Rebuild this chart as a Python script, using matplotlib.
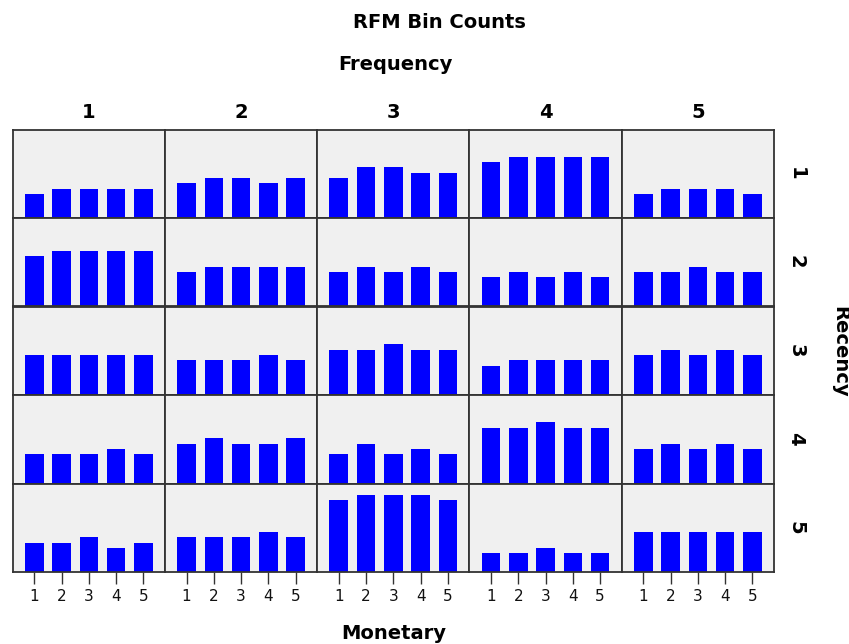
import matplotlib
matplotlib.use('Agg')
import matplotlib.pyplot as plt

# ---- data ----
monetary = [1, 2, 3, 4, 5]
monetary_labels = ['1', '2', '3', '4', '5']
frequency_labels = ['1', '2', '3', '4', '5']
recency_labels = ['1', '2', '3', '4', '5']

# each list: one entry per Frequency bin (1..5), each holding counts for Monetary 1..5
recency_1 = [[9, 11, 11, 11, 11], [13, 15, 15, 13, 15], [15, 19, 19, 17, 17],
             [21, 23, 23, 23, 23], [9, 11, 11, 11, 9]]
recency_2 = [[19, 21, 21, 21, 21], [13, 15, 15, 15, 15], [13, 15, 13, 15, 13],
             [11, 13, 11, 13, 11], [13, 13, 15, 13, 13]]
recency_3 = [[15, 15, 15, 15, 15], [13, 13, 13, 15, 13], [17, 17, 19, 17, 17],
             [11, 13, 13, 13, 13], [15, 17, 15, 17, 15]]
recency_4 = [[11, 11, 11, 13, 11], [15, 17, 15, 15, 17], [11, 15, 11, 13, 11],
             [21, 21, 23, 21, 21], [13, 15, 13, 15, 13]]
recency_5 = [[11, 11, 13, 9, 11], [13, 13, 13, 15, 13], [27, 29, 29, 29, 27],
             [7, 7, 9, 7, 7], [15, 15, 15, 15, 15]]
counts = [recency_1, recency_2, recency_3, recency_4, recency_5]

W, H = 849, 644
fig, axes = plt.subplots(5, 5, figsize=(W / 100, H / 100), dpi=100)
fig.patch.set_facecolor('white')
fig.subplots_adjust(left=12.7 / W, right=774 / W, top=1 - 129.5 / H,
                    bottom=1 - 572 / H, wspace=0, hspace=0)

for i in range(5):
    for j in range(5):
        ax = axes[i][j]
        ax.bar(monetary, counts[i][j], width=0.68, color='#0000ff',
               edgecolor='none', zorder=2)
        ax.set_facecolor('#f0f0f0')
        ax.set_xlim(0.21, 5.79)
        ax.set_ylim(0, 33.2)
        ax.set_yticks([])
        for s in ax.spines.values():
            s.set_color('#333333')
            s.set_linewidth(1.3)
        if i == 4:
            ax.set_xticks(monetary)
            ax.set_xticklabels(monetary_labels, fontsize=11,
                               family='DejaVu Sans', color='#111111')
            ax.tick_params(axis='x', length=8.4, width=1.0, color='#333333',
                           pad=4)
        else:
            ax.set_xticks([])

# column headers (Frequency bins)
for j in range(5):
    pos = axes[0][j].get_position()
    fig.text((pos.x0 + pos.x1) / 2, 1 - 118.3 / H, frequency_labels[j],
             ha='center', va='baseline', fontsize=14, fontweight='bold',
             family='DejaVu Sans')

# row headers (Recency bins)
for i in range(5):
    pos = axes[i][0].get_position()
    fig.text(796 / W, (pos.y0 + pos.y1) / 2, recency_labels[i],
             ha='center', va='center', rotation=-90, fontsize=14,
             fontweight='bold', family='DejaVu Sans')

fig.text(439.7 / W, 1 - 28.3 / H, 'RFM Bin Counts', ha='center',
         va='baseline', fontsize=14, fontweight='bold', family='DejaVu Sans')
fig.text(395 / W, 1 - 70.5 / H, 'Frequency', ha='center', va='baseline',
         fontsize=14, fontweight='bold', family='DejaVu Sans')
fig.text(393.3 / W, 1 - 639 / H, 'Monetary', ha='center', va='baseline',
         fontsize=14, fontweight='bold', family='DejaVu Sans')
fig.text(840 / W, 1 - 351.5 / H, 'Recency', ha='center', va='center',
         rotation=-90, fontsize=14, fontweight='bold', family='DejaVu Sans')

fig.savefig('out.png', dpi=100)
